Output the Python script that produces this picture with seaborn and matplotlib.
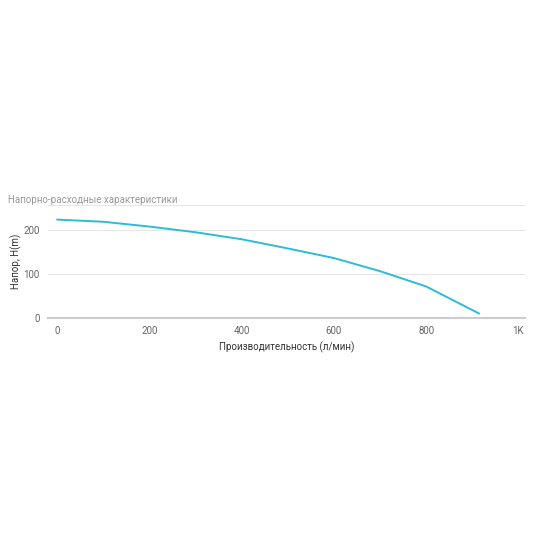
import matplotlib
matplotlib.use("Agg")
import matplotlib.pyplot as plt
import seaborn as sns
import pandas as pd

flow = [0, 100, 200, 300, 400, 500, 600, 700, 800, 915]
head = [225, 220, 209, 196, 180, 159, 137, 107, 72, 10]
xticks = [0, 200, 400, 600, 800, 1000]
xticklabels = ["0", "200", "400", "600", "800", "1K"]
yticks = [0, 100, 200]

sns.set_style("white")
plt.rcParams['font.family'] = ['Roboto', 'DejaVu Sans']
fig = plt.figure(figsize=(5.5, 5.5), dpi=100)
ax = fig.add_axes([0.087, 0.422, 0.868, 0.205])
df = pd.DataFrame({"x": flow, "y": head})
sns.lineplot(data=df, x="x", y="y", ax=ax, color="#2bbcd8", linewidth=1.4)
ax.set_xlim(-20, 1015)
ax.set_ylim(0, 258)
ax.set_xticks(xticks)
ax.set_xticklabels(xticklabels)
ax.set_yticks(yticks)
ax.yaxis.grid(True, color="#e6e6e6", linewidth=0.8)
ax.axhline(258, color="#e6e6e6", linewidth=0.8)
for s in ["left", "right", "top"]:
    ax.spines[s].set_visible(False)
ax.spines["bottom"].set_color("#cccccc")
ax.spines["bottom"].set_linewidth(1.5)
ax.tick_params(axis="both", length=0, labelsize=7, colors="#666666", pad=6)
ax.set_xlabel("Производительность (л/мин)", fontsize=7, color="#333333", labelpad=4)
ax.set_ylabel("Напор, H(m)", fontsize=7, color="#333333", labelpad=1)
fig.text(0.015, 0.628, "Напорно-расходные характеристики", fontsize=7, color="#999999", va="bottom")
fig.savefig("out.png", dpi=100)
